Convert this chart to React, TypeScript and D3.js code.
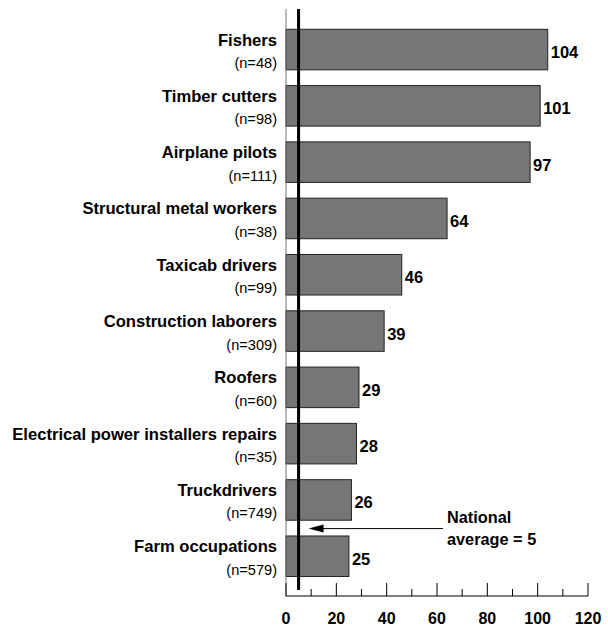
import React from 'react';
import * as d3 from 'd3';

const occupations = [
  'Fishers',
  'Timber cutters',
  'Airplane pilots',
  'Structural metal workers',
  'Taxicab drivers',
  'Construction laborers',
  'Roofers',
  'Electrical power installers repairs',
  'Truckdrivers',
  'Farm occupations',
];
const sampleSizes = [48, 98, 111, 38, 99, 309, 60, 35, 749, 579];
const rates = [104, 101, 97, 64, 46, 39, 29, 28, 26, 25];
const nationalAverage = 5;
const majorTicks = [0, 20, 40, 60, 80, 100, 120];
const minorTicks = [10, 30, 50, 70, 90, 110];

const width = 608;
const height = 626;
const font = 'Arial, "Liberation Sans", Helvetica, sans-serif';

export default function App() {
  React.useEffect(() => {
    document.body.style.margin = '0';
  }, []);

  const x = d3.scaleLinear().domain([0, 120]).range([286, 588]);
  const y = d3
    .scaleBand<string>()
    .domain(occupations)
    .range([21.4, 584.4])
    .paddingInner(0.28)
    .paddingOuter(0.14);

  const axisY = 596;
  const bw = y.bandwidth();
  const arrowY = (y('Truckdrivers')! + bw + y('Farm occupations')!) / 2 + 0.5;
  const arrowTip = x(nationalAverage) + 10;

  return (
    <svg width={width} height={height} style={{ display: 'block', fontFamily: font }}>
      <rect width={width} height={height} fill="#fff" />

      {/* bars */}
      {occupations.map((o, i) => {
        const top = y(o)!;
        const cy = top + bw / 2;
        return (
          <g key={o}>
            <rect
              x={x(0)}
              y={top}
              width={x(rates[i]) - x(0)}
              height={bw}
              fill="#767676"
              stroke="#222"
              strokeWidth={1}
            />
            <text x={x(rates[i]) + 3} y={cy + 8.5} fontSize={16.5} fontWeight="bold" fill="#000">
              {rates[i]}
            </text>
            <text x={x(0) - 9} y={cy - 4} fontSize={16.6} fontWeight="bold" textAnchor="end" fill="#000">
              {o}
            </text>
            <text x={x(0) - 9} y={cy + 18.5} fontSize={14.6} textAnchor="end" fill="#000">
              (n={sampleSizes[i]})
            </text>
          </g>
        );
      })}

      {/* y axis line */}
      <line x1={x(0)} x2={x(0)} y1={9} y2={axisY} stroke="#777" strokeWidth={1} />

      {/* national average */}
      <line x1={x(nationalAverage)} x2={x(nationalAverage)} y1={9} y2={590} stroke="#000" strokeWidth={3} />

      {/* x axis */}
      <line x1={x(0)} x2={x(120)} y1={axisY} y2={axisY} stroke="#000" strokeWidth={1} />
      {majorTicks.map((t) => (
        <g key={t}>
          <line x1={x(t)} x2={x(t)} y1={axisY - 13} y2={axisY} stroke="#000" strokeWidth={1} />
          <text x={x(t)} y={623.5} fontSize={16} fontWeight="bold" textAnchor="middle" fill="#000">
            {t}
          </text>
        </g>
      ))}
      {minorTicks.map((t) => (
        <line key={t} x1={x(t)} x2={x(t)} y1={axisY - 7} y2={axisY} stroke="#000" strokeWidth={1} />
      ))}

      {/* annotation arrow */}
      <line x1={arrowTip + 12} x2={443} y1={arrowY} y2={arrowY} stroke="#000" strokeWidth={1} />
      <path
        d={`M${arrowTip},${arrowY} L${arrowTip + 15},${arrowY - 4} L${arrowTip + 15},${arrowY + 4} Z`}
        fill="#000"
      />
      <text x={447} y={522.7} fontSize={16.3} fontWeight="bold" fill="#000">
        National
      </text>
      <text x={447} y={545} fontSize={16.3} fontWeight="bold" fill="#000">
        average = {nationalAverage}
      </text>
    </svg>
  );
}
